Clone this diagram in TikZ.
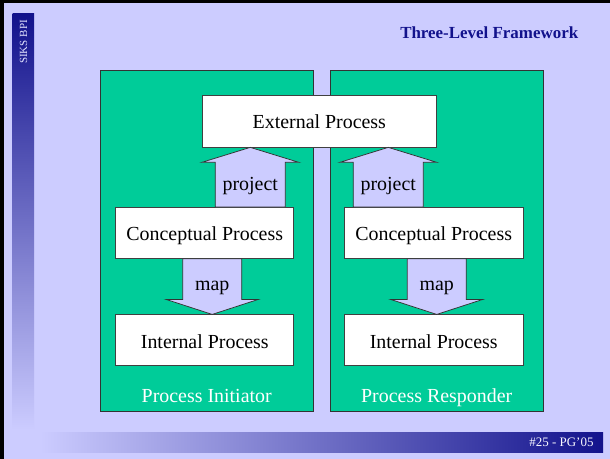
\documentclass[tikz,border=0pt]{standalone}
\usepackage{fontspec}
\setmainfont{Liberation Serif}
\usetikzlibrary{calc}

\definecolor{lavender}{RGB}{204,204,255}
\definecolor{panelgreen}{RGB}{0,204,153}
\definecolor{navy}{RGB}{18,18,140}

\tikzset{
  procbox/.style={draw=black!75,fill=white,line width=0.75bp,minimum width=178bp,minimum height=51bp,inner sep=0pt,text height=18.5bp,text depth=3bp,font=\fontsize{20}{24}\selectfont},
  panel/.style={draw=black!80,fill=panelgreen,line width=0.75bp,inner sep=0pt},
  arrowbox/.style={draw=black!80,fill=lavender,line width=0.75bp},
  arrowlabel/.style={anchor=base,font=\fontsize{20}{24}\selectfont},
  panellabel/.style={anchor=base,text=white,font=\fontsize{20}{24}\selectfont}
}

\newcommand{\blockarrow}[5]{%
  \draw[arrowbox] let \p1=(#1), \p2=(#2) in
    (\x1-#3bp,\y1) -- (\x1-#3bp,{\y2-(#5)*15bp}) -- (\x1-#4bp,{\y2-(#5)*15bp})
    -- (\x1,\y2) -- (\x1+#4bp,{\y2-(#5)*15bp}) -- (\x1+#3bp,{\y2-(#5)*15bp})
    -- (\x1+#3bp,\y1) -- cycle;}

\begin{document}
\begin{tikzpicture}[x=1bp,y=-1bp]
                    \useasboundingbox (0,0) rectangle (610,459);
                    \fill[lavender] (0,0) rectangle (610,459);
                    \fill[black] (0,0) rectangle (610,3);
                    \fill[black] (0,0) rectangle (3.5,459);

                    \shade[top color=navy,bottom color=lavender] (12.5,14) rectangle (34,430);
                    \node[rotate=90,text=lavender!55!white,font=\fontsize{11}{12}\selectfont] (siks) at (23.5,42) {SIKS BPI};

                    \shade[left color=lavender,right color=navy] (40,432) rectangle (603,452.5);
                    \node[anchor=base east,text=white!85!lavender,font=\fontsize{13}{15}\selectfont] (slide) at (597,446.7) {\#25 - PG’05};

                    \node[anchor=base east,text=navy,font=\bfseries\fontsize{17}{20}\selectfont] (title) at (581.7,39) {Three-Level Framework};

                    \node[panel,minimum width=213.5bp,minimum height=341bp] (init) at (206.75,240.5) {};
                    \node[panel,minimum width=213bp,minimum height=341bp] (resp) at (436.5,240.5) {};
                    \node[panellabel] (initlabel) at (206.7,402.7) {Process Initiator};
                    \node[panellabel] (resplabel) at (436.7,402.7) {Process Responder};

                    \node[procbox,minimum width=234.7bp,minimum height=52bp] (ext) at (319.3,121) {External Process};
                    \node[procbox] (lc) at (204.7,233) {Conceptual Process};
                    \node[procbox] (li) at (204.8,340.3) {Internal Process};
                    \node[procbox,minimum width=179.3bp] (rc) at (433.7,233) {Conceptual Process};
                    \node[procbox,minimum width=179.3bp] (ri) at (433.7,340.3) {Internal Process};

                    \coordinate (pl) at ($(ext.south)+(-69,0)$);
                    \coordinate (pr) at ($(ext.south)+(69,0)$);
                    \blockarrow{pl |- lc.north}{pl}{35}{48.6}{1}
                    \blockarrow{pr |- rc.north}{pr}{35}{48.6}{1}
                    \blockarrow{$(lc.south)+(7.5,0)$}{li.north}{29.5}{46.1}{-1}
                    \blockarrow{$(rc.south)+(3,0)$}{ri.north}{29.5}{46.1}{-1}

                    \node[arrowlabel] (lproj) at ($(pl)+(0,43)$) {project};
                    \node[arrowlabel] (rproj) at ($(pr)+(0,43)$) {project};
                    \node[arrowlabel] (lmap) at ($(lc.south)+(7.5,31.7)$) {map};
                    \node[arrowlabel] (rmap) at ($(rc.south)+(3,31.7)$) {map};

                \end{tikzpicture}
\end{document}
